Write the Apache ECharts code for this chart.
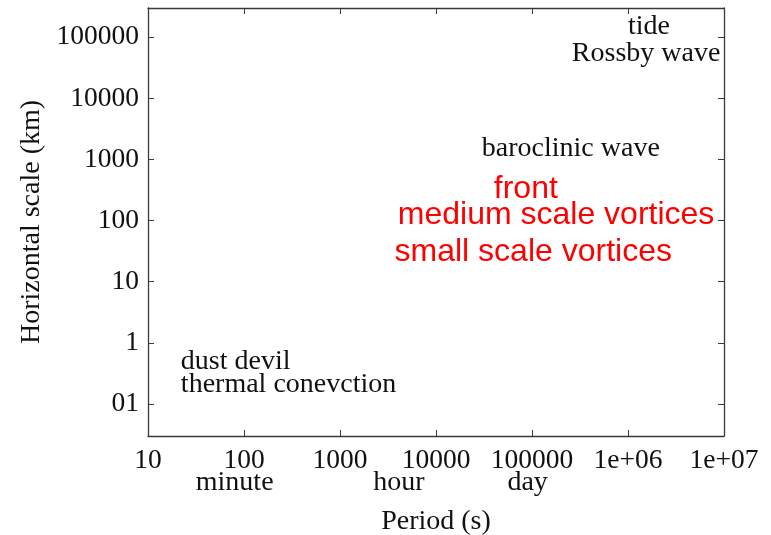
<!DOCTYPE html>
<html>
<head>
<meta charset="utf-8">
<script src="https://cdn.jsdelivr.net/npm/echarts@6/dist/echarts.min.js"></script>
<style>html,body{margin:0;padding:0;background:#fff}#c{width:771px;height:535px}</style>
</head>
<body>
<div id="c"></div>
<script>
// Tick labels
const xTickValues = [10, 100, 1000, 10000, 100000, 1e6, 1e7];
const xTickLabels = ['10', '100', '1000', '10000', '100000', '1e+06', '1e+07'];
const yTickValues = [0.1, 1, 10, 100, 1000, 10000, 100000];
const yTickLabels = ['01', '1', '10', '100', '1000', '10000', '100000'];

// Phenomena (black labels)
const blackNames   = ['tide', 'Rossby wave', 'baroclinic wave', 'dust devil', 'thermal conevction'];
const blackPeriods = [1e6, 2.6e5, 3e4, 22, 22];
const blackScales  = [1.5e5, 5.4e4, 1500, 0.5, 0.21];

// Phenomena (red labels)
const redNames   = ['front', 'medium scale vortices', 'small scale vortices'];
const redPeriods = [4e4, 4000, 3700];
const redScales  = [330, 125, 31];

// Time-unit labels under the x axis
const unitNames   = ['minute', 'hour', 'day'];
const unitPeriods = [80, 4100, 90000];
const unitScales  = [0.0052, 0.0052, 0.0052];

function lookup(vals, labels, v) {
  for (let i = 0; i < vals.length; i++) {
    if (Math.abs(Math.log10(v) - Math.log10(vals[i])) < 1e-6) return labels[i];
  }
  return '';
}

const serif = 'Liberation Serif';
const sans = 'Liberation Sans';
const frame = '#3a3a3a';
const ink = '#111';

function zip(xs, ys, names) { return xs.map((x, i) => ({ value: [x, ys[i]], name: names[i] })); }

const baseX = {
  type: 'log', min: 10, max: 1e7, logBase: 10,
  axisLine: { show: true, lineStyle: { color: frame, width: 1.3 } },
  axisTick: { show: true, inside: true, length: 6, lineStyle: { color: frame } },
  splitLine: { show: false }, minorTick: { show: false }
};
const baseY = {
  type: 'log', min: 0.03, max: 300000, logBase: 10,
  axisLine: { show: true, lineStyle: { color: frame, width: 1.3 } },
  axisTick: { show: true, inside: true, length: 6, lineStyle: { color: frame } },
  splitLine: { show: false }, minorTick: { show: false }
};

const labelSeries = (data, font, size, color, align) => ({
  type: 'scatter', xAxisIndex: 0, yAxisIndex: 0, symbolSize: 0, clip: false, silent: true,
  itemStyle: { opacity: 1 },
  data: data,
  label: { show: true, position: 'inside', align: align, verticalAlign: 'middle',
    formatter: p => p.name, fontFamily: font, fontSize: size, color: color, opacity: 1 }
});

const chart = echarts.init(document.getElementById('c'), null, { renderer: 'canvas' });
chart.setOption({
  animation: false,
  backgroundColor: '#fff',
  grid: { left: 148, right: 47, top: 8, bottom: 99, containLabel: false, outerBoundsMode: 'none' },
  xAxis: [
    Object.assign({}, baseX, {
      position: 'bottom',
      name: 'Period (s)', nameLocation: 'middle', nameGap: 72,
      nameTextStyle: { fontFamily: serif, fontSize: 28, color: ink },
      axisLabel: { show: true, margin: 11, fontFamily: serif, fontSize: 27.5, color: ink,
        formatter: v => lookup(xTickValues, xTickLabels, v) }
    }),
    Object.assign({}, baseX, { position: 'top', axisLabel: { show: false } })
  ],
  yAxis: [
    Object.assign({}, baseY, {
      position: 'left',
      name: 'Horizontal scale (km)', nameLocation: 'middle', nameGap: 101,
      nameTextStyle: { fontFamily: serif, fontSize: 28, color: ink },
      axisLabel: { show: true, margin: 9, fontFamily: serif, fontSize: 27.5, color: ink,
        showMinLabel: false, showMaxLabel: false,
        formatter: v => lookup(yTickValues, yTickLabels, v) }
    }),
    Object.assign({}, baseY, { position: 'right', axisLabel: { show: false } })
  ],
  series: [
    labelSeries(zip(blackPeriods, blackScales, blackNames), serif, 28, ink, 'left'),
    labelSeries(zip(redPeriods, redScales, redNames), sans, 32, '#ff0000', 'left'),
    labelSeries(zip(unitPeriods, unitScales, unitNames), serif, 28, ink, 'center')
  ]
});
</script>
</body>
</html>
